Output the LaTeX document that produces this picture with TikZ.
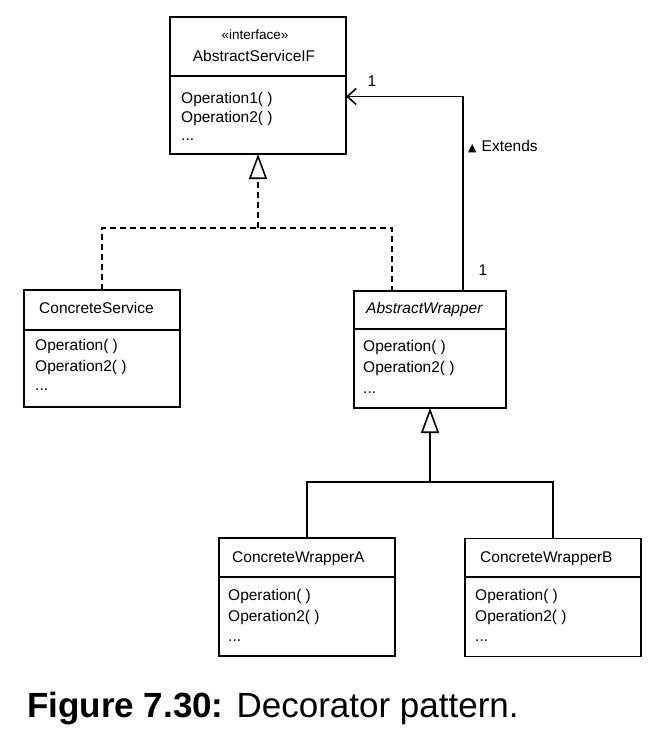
\documentclass[tikz,border=0pt]{standalone}
\usepackage{fontspec}
\setmainfont{Liberation Sans}
\newfontfamily\symfont{DejaVu Sans}
\usetikzlibrary{arrows.meta}
\begin{document}
\begin{tikzpicture}[x=1pt,y=-1pt,
  classbox/.style={draw,line width=1.6pt,inner sep=0pt,outer sep=0pt},
  conn/.style={line width=1.6pt},
  dashconn/.style={line width=1.6pt,dash pattern=on 6pt off 4pt},
  txt/.style={anchor=base west,inner sep=0pt,font=\fontsize{15.5}{18}\selectfont},
  small/.style={anchor=base,inner sep=0pt,font=\fontsize{13.5}{16}\selectfont},
  gen/.style={-{Triangle[open,length=25pt,width=18pt,line width=1.6pt]}},
  assoc/.style={-{Straight Barb[length=9pt,width=16pt,line width=1.6pt]}}]
\useasboundingbox (0,0) rectangle (664,746);

% AbstractServiceIF
\node[classbox,minimum width=176pt,minimum height=137pt] (asif) at (258,85.5) {};
\draw[conn] (asif.west |- 0,76) -- (asif.east |- 0,76);
\node[small] (asifst) at (255,40) {«interface»};
\node[txt,anchor=base] (asift) at (254,62) {AbstractServiceIF};
\node[txt] (asifo1) at (181,104) {Operation1( )};
\node[txt] (asifo2) at (181,123) {Operation2( )};
\node[txt] (asifo3) at (181,141) {...};

% ConcreteService
\node[classbox,minimum width=156pt,minimum height=117pt] (cs) at (102,348.5) {};
\draw[conn] (cs.west |- 0,330) -- (cs.east |- 0,330);
\node[txt] (cst) at (39,313) {ConcreteService};
\node[txt] (cso1) at (35,350) {Operation( )};
\node[txt] (cso2) at (35,371) {Operation2( )};
\node[txt] (cso3) at (35,390) {...};

% AbstractWrapper
\node[classbox,minimum width=152pt,minimum height=117pt] (aw) at (430,349.5) {};
\draw[conn] (aw.west |- 0,329) -- (aw.east |- 0,329);
\node[txt,font=\fontsize{15.5}{18}\selectfont\itshape] (awt) at (366,313) {AbstractWrapper};
\node[txt] (awo1) at (363,351) {Operation( )};
\node[txt] (awo2) at (363,372) {Operation2( )};
\node[txt] (awo3) at (363,393) {...};

% ConcreteWrapperA
\node[classbox,minimum width=176pt,minimum height=118pt] (cwa) at (307,597) {};
\draw[conn] (cwa.west |- 0,577) -- (cwa.east |- 0,577);
\node[txt] (cwat) at (232,562) {ConcreteWrapperA};
\node[txt] (cwao1) at (228,600) {Operation( )};
\node[txt] (cwao2) at (228,621) {Operation2( )};
\node[txt] (cwao3) at (228,641) {...};

% ConcreteWrapperB
\node[classbox,minimum width=176pt,minimum height=118pt] (cwb) at (553,597.5) {};
\draw[conn] (cwb.west |- 0,577) -- (cwb.east |- 0,577);
\node[txt] (cwbt) at (480,562) {ConcreteWrapperB};
\node[txt] (cwbo1) at (475,600) {Operation( )};
\node[txt] (cwbo2) at (475,621) {Operation2( )};
\node[txt] (cwbo3) at (475,641) {...};

% realization (dashed)
\coordinate (dj) at (asif.south |- 0,228);
\draw[dashconn] (cs.north) |- (dj) -| ([xshift=38pt]aw.north west);
\draw[dashconn,gen] (dj) -- (asif.south);

% generalization
\coordinate (gj) at (aw.south |- 0,482);
\draw[conn] (cwa.north) |- (gj) -| (cwb.north);
\draw[conn,gen] (gj) -- (aw.south);

% association
\draw[conn,assoc] ([xshift=109pt]aw.north west) |- ([yshift=-11pt]asif.east);
\node[txt,anchor=base] (m1) at (372,87) {1};
\node[txt,anchor=base] (m2) at (483,275) {1};
\node[txt] (ext) at (468,152) {{\symfont\fontsize{11}{12}\selectfont ▲}\hspace{5pt}Extends};

% caption
\node[anchor=base west,inner sep=0pt,font=\fontsize{35}{40}\selectfont] (cap) at (27,717) {\textbf{Figure 7.30:} Decorator pattern.};
\end{tikzpicture}
\end{document}
